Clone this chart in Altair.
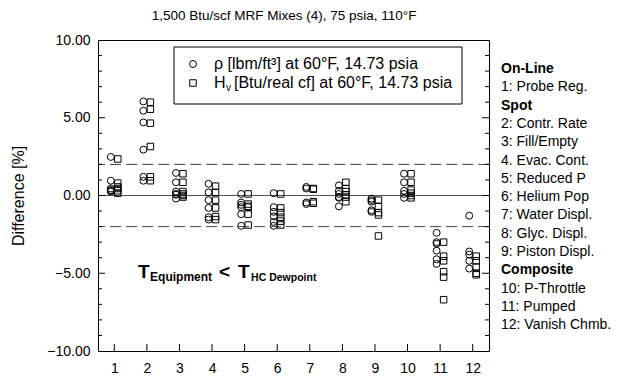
import altair as alt
import pandas as pd

# ---------------- data ----------------
categories = list(range(1, 13))

rho_diff = [
    [2.48, 0.95, 0.45, 0.35, 0.30, 0.25],
    [6.05, 5.45, 4.70, 2.95, 1.20, 0.95],
    [1.45, 0.85, 0.25, 0.10, 0.05, -0.20],
    [0.75, 0.20, -0.30, -0.80, -1.40, -1.55],
    [0.10, -0.45, -0.60, -0.75, -1.20, -1.95],
    [0.15, -0.75, -1.05, -1.35, -1.70, -1.95],
    [0.55, 0.45, -0.45, -0.55],
    [0.65, 0.30, 0.10, -0.10, -0.15, -0.70],
    [-0.20, -0.30, -0.40, -0.95, -1.05],
    [1.40, 0.85, 0.30, 0.10, -0.15],
    [-2.40, -3.00, -3.10, -3.55, -4.10, -4.40],
    [-1.30, -3.60, -3.80, -4.20, -4.70],
]

hv_diff = [
    [2.35, 0.80, 0.55, 0.45, 0.30, 0.15],
    [6.00, 5.55, 4.65, 3.15, 1.20, 0.95],
    [1.40, 0.85, 0.25, 0.10, 0.00, -0.10],
    [0.60, 0.20, -0.30, -0.80, -1.35, -1.55],
    [0.10, -0.55, -0.70, -0.75, -1.20, -1.90],
    [0.10, -0.80, -1.10, -1.40, -1.65, -1.90],
    [0.45, 0.40, -0.40, -0.50],
    [0.85, 0.45, 0.25, 0.05, -0.10, -0.40],
    [-0.30, -0.70, -1.10, -1.25, -2.60],
    [1.40, 0.85, 0.35, 0.15, 0.00, -0.15],
    [-3.00, -3.90, -4.20, -4.90, -5.25, -6.70],
    [-3.90, -4.20, -4.60, -5.00, -5.10],
]

y_label_values = [-10, -5, 0, 5, 10]
y_minor_ticks = [v for v in range(-9, 10) if v % 5 != 0]
y_major_ticks = [-5, 0, 5]
limit_lines = [-2, 2]
zero_line = [0]

method_labels = ["On-Line", "1: Probe Reg.", "Spot", "2: Contr. Rate", "3: Fill/Empty",
                 "4. Evac. Cont.", "5: Reduced P", "6: Helium Pop", "7: Water Displ.",
                 "8: Glyc. Displ.", "9: Piston Displ.", "Composite", "10: P-Throttle",
                 "11: Pumped", "12: Vanish Chmb."]
method_is_header = [True, False, True, False, False, False, False, False, False,
                    False, False, True, False, False, False]

title_text = "1,500 Btu/scf MRF Mixes (4), 75 psia, 110°F"
legend_rho = "ρ [lbm/ft³] at 60°F, 14.73 psia"
legend_hv_main = "H"
legend_hv_sub = "v"
legend_hv_rest = "[Btu/real cf] at 60°F, 14.73 psia"

annot_x = [1.73]
annot_y = [-5.3]

# ---------------- tables ----------------
def long_table(vals):
    rows = []
    for c, lst in zip(categories, vals):
        for v in lst:
            rows.append({"cat": c, "value": v})
    return pd.DataFrame(rows)

df_rho = long_table(rho_diff)
df_hv = long_table(hv_diff)
df_cat = pd.DataFrame({"cat": categories})
df_minor = pd.DataFrame({"value": y_minor_ticks})
df_major = pd.DataFrame({"value": y_major_ticks})
df_limit = pd.DataFrame({"value": limit_lines})
df_zero = pd.DataFrame({"value": zero_line})
df_methods = pd.DataFrame({"label": method_labels, "header": method_is_header,
                           "row": list(range(len(method_labels)))})
df_annot = pd.DataFrame({"cat": annot_x, "value": annot_y})
df_one = pd.DataFrame({"k": [0]})

# ---------------- styling ----------------
FONT = "Liberation Sans, Arial, sans-serif"
W, H = 391, 311

xs = alt.Scale(domain=[0.5, 12.5], nice=False, zero=False)
ys = alt.Scale(domain=[-10, 10], nice=False, zero=False)

xaxis = alt.Axis(values=categories, ticks=False, tickSize=0, domain=False, grid=False,
                 labelFontSize=14, labelFont=FONT, labelColor="black", labelPadding=10,
                 title=None)
yaxis = alt.Axis(values=y_label_values, format=".2f", ticks=False, tickSize=0, domain=False,
                 grid=False, labelFontSize=14, labelFont=FONT, labelColor="black",
                 labelPadding=8, title="Difference [%]", titleFontSize=16, titleFont=FONT,
                 titleFontWeight="normal", titleColor="black", titlePadding=20)

X = alt.X("cat:Q", scale=xs, axis=xaxis)
Y = alt.Y("value:Q", scale=ys, axis=yaxis)

# reference lines
zero_rule = alt.Chart(df_zero).mark_rule(color="#555555", strokeWidth=1).encode(y=Y)
limit_rule = alt.Chart(df_limit).mark_rule(color="#444444", strokeWidth=1,
                                           strokeDash=[11, 5]).encode(y=Y)

# inward ticks
left_minor = alt.Chart(df_minor).mark_rule(color="black").encode(
    y=Y, x=alt.value(0), x2=alt.value(4))
left_major = alt.Chart(df_major).mark_rule(color="black").encode(
    y=Y, x=alt.value(0), x2=alt.value(7))
right_minor = alt.Chart(df_minor).mark_rule(color="black").encode(
    y=Y, x=alt.value(W), x2=alt.value(W - 4))
right_major = alt.Chart(df_major).mark_rule(color="black").encode(
    y=Y, x=alt.value(W), x2=alt.value(W - 7))
bottom_ticks = alt.Chart(df_cat).mark_rule(color="black").encode(
    x=X, y=alt.value(H), y2=alt.value(H - 7))

# data points
circles = alt.Chart(df_rho).mark_point(shape="circle", filled=False, color="black",
                                       size=48, strokeWidth=1, xOffset=-3.5,
                                       opacity=1).encode(x=X, y=Y)
squares = alt.Chart(df_hv).mark_point(shape="square", filled=False, color="black",
                                      size=42, strokeWidth=1, xOffset=3.5,
                                      opacity=1).encode(x=X, y=Y)

# legend box
box = alt.Chart(df_one).mark_rect(fill="white", stroke="black", strokeWidth=1).encode(
    x=alt.value(76), x2=alt.value(364), y=alt.value(7), y2=alt.value(64))
leg_circle = alt.Chart(df_one).mark_point(shape="circle", filled=False, color="black",
                                          size=48, strokeWidth=1, opacity=1).encode(
    x=alt.value(95), y=alt.value(24))
leg_square = alt.Chart(df_one).mark_point(shape="square", filled=False, color="black",
                                          size=42, strokeWidth=1, opacity=1).encode(
    x=alt.value(95), y=alt.value(43))
leg_t1 = alt.Chart(df_one).mark_text(align="left", baseline="middle", fontSize=16,
                                     font=FONT, color="black", text=legend_rho).encode(
    x=alt.value(116), y=alt.value(24))
leg_t2a = alt.Chart(df_one).mark_text(align="left", baseline="middle", fontSize=16,
                                      font=FONT, color="black", text=legend_hv_main).encode(
    x=alt.value(116), y=alt.value(43))
leg_t2b = alt.Chart(df_one).mark_text(align="left", baseline="middle", fontSize=10,
                                      font=FONT, color="black", text=legend_hv_sub).encode(
    x=alt.value(128), y=alt.value(48))
leg_t2c = alt.Chart(df_one).mark_text(align="left", baseline="middle", fontSize=16,
                                      font=FONT, color="black", text=legend_hv_rest).encode(
    x=alt.value(136), y=alt.value(43))

# chart title as a text mark centred above the plot
title_mark = alt.Chart(df_one).mark_text(align="center", baseline="middle", fontSize=13.5,
                                         font=FONT, color="black", text=title_text).encode(
    x=alt.value(186), y=alt.value(-24))

# annotation  T_Equipment < T_HC Dewpoint
def ann(txt, size, dx, dy):
    return alt.Chart(df_annot).mark_text(align="left", baseline="alphabetic", fontSize=size,
                                         fontWeight="bold", font=FONT, color="black",
                                         text=txt, dx=dx, dy=dy).encode(x=X, y=Y)

annotation = [ann("T", 19, 0, 0), ann("Equipment", 12, 12, 3), ann("<", 19, 81, 0),
              ann("T", 19, 100, 0), ann("HC Dewpoint", 10.5, 113, 3)]

# method list on the right
methods_base = alt.Chart(df_methods).transform_calculate(py="29 + datum.row * 18.3")
methods_head = methods_base.transform_filter("datum.header").mark_text(
    align="left", baseline="middle", fontSize=14, fontWeight="bold", font=FONT,
    color="black").encode(x=alt.value(403), y=alt.Y("py:Q", scale=None, axis=None),
                          text="label:N")
methods_item = methods_base.transform_filter("!datum.header").mark_text(
    align="left", baseline="middle", fontSize=14, font=FONT,
    color="black").encode(x=alt.value(403), y=alt.Y("py:Q", scale=None, axis=None),
                          text="label:N")

chart = alt.layer(
    zero_rule, limit_rule, left_minor, left_major, right_minor, right_major, bottom_ticks,
    circles, squares, box, leg_circle, leg_square, leg_t1, leg_t2a, leg_t2b, leg_t2c,
    title_mark, *annotation, methods_head, methods_item,
).properties(
    width=W, height=H,
    autosize="none",
    padding={"left": 90, "top": 32, "right": 134, "bottom": 24},
    background="white",
).configure_view(stroke="black", strokeWidth=1)

chart.save("out.html", embed_options={"renderer": "svg", "actions": False})
